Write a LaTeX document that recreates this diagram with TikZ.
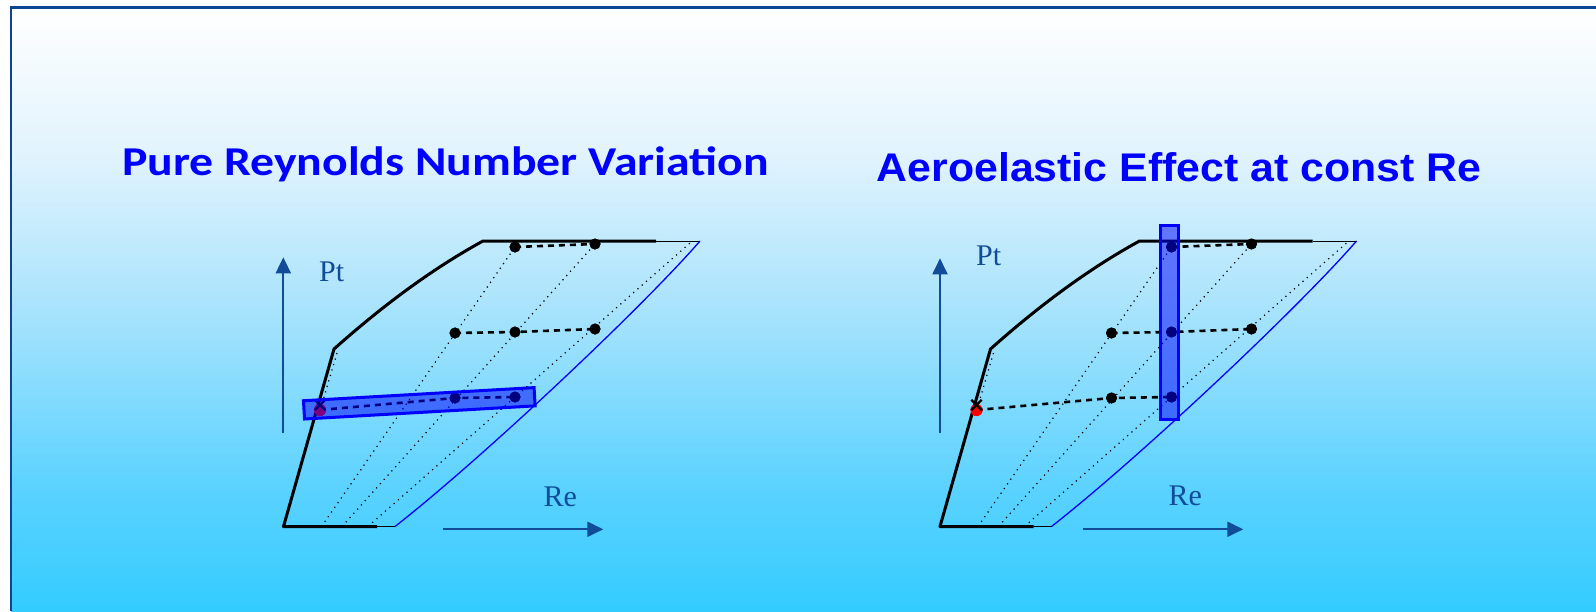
\documentclass[tikz,border=0pt]{standalone}
\usepackage{fontspec}
\usetikzlibrary{arrows.meta,shapes.misc}
\newfontfamily\carlito{Carlito}[FakeStretch=1.165]
\newfontfamily\libsans{Liberation Sans}[FakeStretch=1.07]
\newfontfamily\libserif{Liberation Serif}
\definecolor{bgbot}{HTML}{33CCFF}
\definecolor{bgA}{HTML}{5AD2FF}
\definecolor{bgB}{HTML}{A8E3FC}
\definecolor{bgC}{HTML}{E0F3FD}
\definecolor{framecol}{HTML}{0D4595}
\definecolor{axiscol}{HTML}{114C99}
\definecolor{hlblue}{HTML}{0000FF}
\pgfdeclareverticalshading{bgshade}{100bp}{color(0bp)=(bgbot); color(25bp)=(bgbot); color(35bp)=(bgA); color(50bp)=(bgB); color(62.5bp)=(bgC); color(75bp)=(white); color(100bp)=(white)}
\tikzset{
  frameline/.style={draw=framecol, line width=2.2pt},
  titleA/.style={font=\carlito\bfseries\fontsize{41}{48}\selectfont, text=hlblue, inner sep=0pt},
  titleB/.style={font=\libsans\bfseries\fontsize{40}{48}\selectfont, text=hlblue, inner sep=0pt},
  axislab/.style={font=\libserif\fontsize{30}{36}\selectfont, text=axiscol, inner sep=0pt},
  axisarrow/.style={draw=axiscol, line width=2pt, -{Triangle[length=16pt,width=15pt]}},
  envline/.style={draw=black, line width=3pt, line join=round},
  thinline/.style={draw=black, line width=1pt},
  blueline/.style={draw=blue, line width=1.3pt},
  dotline/.style={draw=black, line width=1.2pt, dash pattern=on 1.2pt off 4.5pt},
  dashline/.style={draw=black, line width=2.6pt, dash pattern=on 6pt off 5pt},
  dotnode/.style={circle, fill=black, minimum size=11pt, inner sep=0pt},
  reddot/.style={circle, fill=red, minimum size=12pt, inner sep=0pt},
  xmk/.style={cross out, draw=black, line width=2.4pt, minimum size=8pt, inner sep=0pt},
  hl/.style={draw=hlblue, line width=3pt, fill=hlblue, fill opacity=0.5, inner sep=0pt}
}
\newcommand\envelope[1]{%
  \coordinate (#1A) at (283.5,526.5);
  \coordinate (#1Bk) at (377,526.5);
  \coordinate (#1B) at (395,526.5);
  \coordinate (#1K) at (334,349);
  \coordinate (#1T) at (483,241);
  \coordinate (#1Tk) at (656,241);
  \coordinate (#1C) at (700,241);
  \coordinate (#1d0s) at (337,353);
  \coordinate (#1d0e) at (322,404);
  \coordinate (#1d1s) at (321.5,526.5);
  \coordinate (#1d2s) at (342,526.5);
  \coordinate (#1d3s) at (368,526.5);
  \coordinate (#1d3e) at (690,243);
  \node[dotnode] (#1t1) at (515,247) {};
  \node[dotnode] (#1t2) at (595,244) {};
  \node[dotnode] (#1m1) at (455,333) {};
  \node[dotnode] (#1m2) at (515,332) {};
  \node[dotnode] (#1m3) at (595,329) {};
  \node[dotnode] (#1b1) at (455,398) {};
  \node[dotnode] (#1b2) at (515,397) {};
  \draw[dotline] (#1d0s) -- (#1d0e);
  \draw[dotline] (#1d1s) -- (#1t1.center);
  \draw[dotline] (#1d2s) -- (#1t2.center);
  \draw[dotline] (#1d3s) -- (#1d3e);
  \draw[thinline] (#1Bk) -- (#1B);
  \draw[thinline] (#1Tk) -- (#1C);
  \draw[blueline] (#1B) .. controls (480,460) and (640,310) .. (#1C);
  \draw[envline] (#1Bk) -- (#1A) -- (#1K) .. controls (380,308) and (430,270) .. (#1T) -- (#1Tk);
  \node[reddot] (#1r) at (320,410) {};
  \draw[dashline] (#1r.center) -- (#1b1.center) -- (#1b2.center);
  \draw[dashline] (#1m1.center) -- (#1m2.center) -- (#1m3.center);
  \draw[dashline] (#1t1.center) -- (#1t2.center);
  \foreach \n in {t1,t2,m1,m2,m3,b1,b2} {\node[dotnode] at (#1\n) {};}
  \node[reddot] at (#1r) {};
  \node[xmk] (#1x) at (320,405) {};
}
\begin{document}
\begin{tikzpicture}[x=1pt,y=-1pt]
\useasboundingbox (0,0) rectangle (1596,611);
\fill[white] (0,0) rectangle (1596,611);
\shade[shading=bgshade] (11,7.5) rectangle (1596,611);
\draw[frameline] (11,611) -- (11,7.5) -- (1596,7.5);

\node[titleA, anchor=base] (title1) at (445.5,175) {Pure Reynolds Number Variation};
\node[titleB, anchor=base] (title2) at (1179,181) {Aeroelastic Effect at const Re};

\begin{scope}
  \envelope{L}
\end{scope}
\begin{scope}[shift={(656.5,0)}]
  \envelope{R}
\end{scope}

\node[hl, minimum width=231pt, minimum height=18.3pt, rotate=3.26] (hl1) at (419.3,403.3) {};
\node[hl, minimum width=17.7pt, minimum height=193.4pt] (hl2) at (1169.7,322.5) {};

\coordinate (pa0) at (283.3,433.3);
\coordinate (pa1) at (283.3,257.3);
\coordinate (ra0) at (442.7,529.3);
\coordinate (ra1) at (603.3,529.3);
\draw[axisarrow] (pa0) -- (pa1);
\draw[axisarrow] (ra0) -- (ra1);
\node[axislab, anchor=base west] (ptL) at (319,281.7) {Pt};
\node[axislab, anchor=base west] (reL) at (543.3,506) {Re};

\coordinate (pb0) at (940,433.3);
\coordinate (pb1) at (940,258.3);
\coordinate (rb0) at (1082.7,529.3);
\coordinate (rb1) at (1243.3,529.3);
\draw[axisarrow] (pb0) -- (pb1);
\draw[axisarrow] (rb0) -- (rb1);
\node[axislab, anchor=base west] (ptR) at (976,265) {Pt};
\node[axislab, anchor=base west] (reR) at (1168.3,505.5) {Re};
\end{tikzpicture}
\end{document}
